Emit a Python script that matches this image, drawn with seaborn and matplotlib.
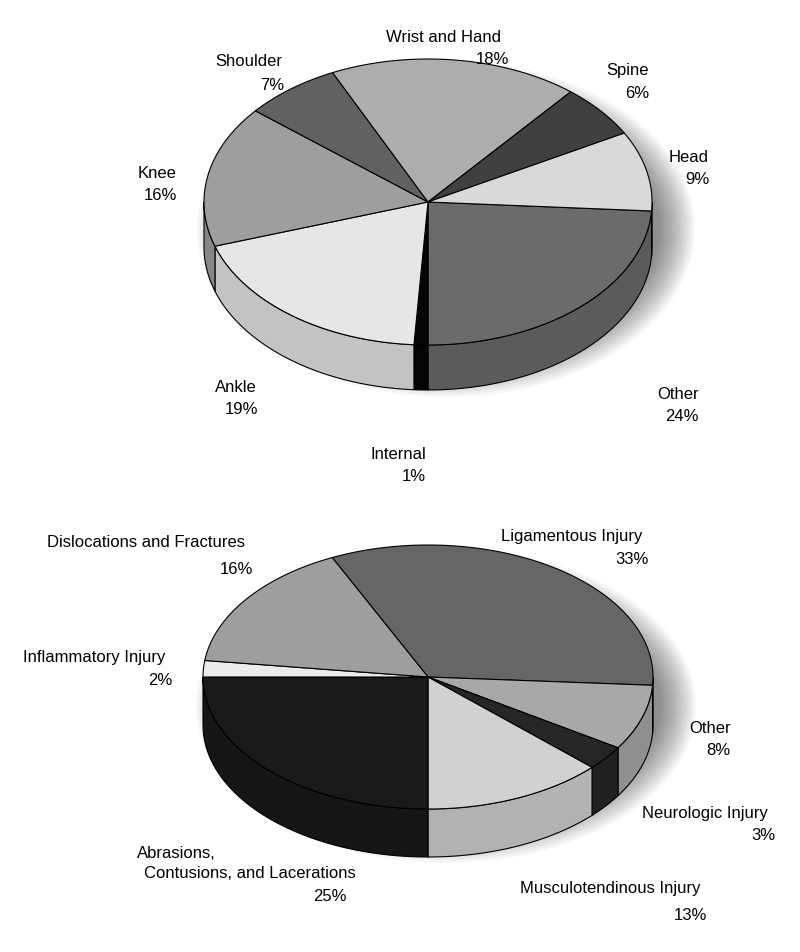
import numpy as np
import matplotlib
matplotlib.use("Agg")
import matplotlib.pyplot as plt
import seaborn as sns
from matplotlib.patches import Polygon, Ellipse

sns.set_style("white")
plt.rcParams['font.family'] = ['Liberation Sans', 'DejaVu Sans']

# datos
top_names = ["Other", "Internal", "Ankle", "Knee", "Shoulder", "Wrist and Hand", "Spine", "Head"]
top_pct = [24, 1, 19, 16, 7, 18, 6, 9]
top_gray = [0.42, 0.02, 0.9, 0.62, 0.38, 0.68, 0.25, 0.85]

bot_names = ["Ligamentous Injury", "Other", "Neurologic Injury", "Musculotendinous Injury",
             "Abrasions, Contusions, and Lacerations", "Inflammatory Injury", "Dislocations and Fractures"]
bot_pct = [33, 8, 3, 13, 25, 2, 16]
bot_gray = [0.4, 0.66, 0.15, 0.82, 0.1, 0.92, 0.62]


def pie3d(ax, pct, grays, cx, cy, a, b, depth, start):
    # sombra difusa
    for k in range(15):
        ax.add_patch(Ellipse((cx + 18, cy + depth * 0.6), 2 * a + 50 - k * 5, 2 * b + 50 - k * 5,
                             color='black', alpha=0.035, lw=0, zorder=1))
    ang = start
    tops = []
    for p, g in zip(pct, grays):
        t0 = ang
        t1 = ang - p * 3.6
        ang = t1
        ts = np.radians(np.linspace(t0, t1, 80))
        xs = cx + a * np.cos(ts)
        ys = cy - b * np.sin(ts)
        tops.append((xs, ys, g))
        # lado frontal
        for base in (0, -360):
            s0 = max(min(t0, t1), base - 180)
            s1 = min(max(t0, t1), base)
            if s1 > s0:
                ss = np.radians(np.linspace(s0, s1, 60))
                sx = cx + a * np.cos(ss)
                sy = cy - b * np.sin(ss)
                poly = np.column_stack([np.r_[sx, sx[::-1]], np.r_[sy, sy[::-1] + depth]])
                ax.add_patch(Polygon(poly, closed=True, fc=str(g * 0.85), ec='black', lw=0.8, zorder=2))
    for xs, ys, g in tops:
        poly = np.column_stack([np.r_[cx, xs], np.r_[cy, ys]])
        ax.add_patch(Polygon(poly, closed=True, fc=str(g), ec='black', lw=0.8, zorder=3))


fig = plt.figure(figsize=(8, 9.53), dpi=100)
ax = fig.add_axes([0, 0, 1, 1])
ax.set_xlim(0, 800)
ax.set_ylim(953, 0)
ax.axis('off')

pie3d(ax, top_pct, top_gray, 428, 203, 224, 143, 45, -3.6)
pie3d(ax, bot_pct, bot_gray, 428, 678, 225, 132, 48, 115.2)

labels = [
    ("Wrist and Hand", 443, 37), ("18%", 492, 60), ("Shoulder", 249, 62), ("7%", 272, 85),
    ("Spine", 628, 71), ("6%", 637, 93), ("Head", 689, 158), ("9%", 697, 180),
    ("Knee", 157, 174), ("16%", 160, 196), ("Ankle", 236, 388), ("19%", 242, 410),
    ("Other", 678, 395), ("24%", 682, 417), ("Internal", 398, 455), ("1%", 414, 477),
    ("Dislocations and Fractures", 146, 543), ("16%", 236, 570),
    ("Ligamentous Injury", 572, 537), ("33%", 632, 560),
    ("Inflammatory Injury", 94, 658), ("2%", 160, 681),
    ("Other", 710, 729), ("8%", 718, 751),
    ("Neurologic Injury", 705, 814), ("3%", 763, 836),
    ("Abrasions,", 176, 854), ("Contusions, and Lacerations", 250, 874), ("25%", 330, 897),
    ("Musculotendinous Injury", 610, 889), ("13%", 690, 916),
]
for s, x, y in labels:
    ax.text(x, y, s, ha='center', va='center', fontsize=12, color='black', zorder=5)

fig.savefig("out.png", dpi=100, facecolor='white')
